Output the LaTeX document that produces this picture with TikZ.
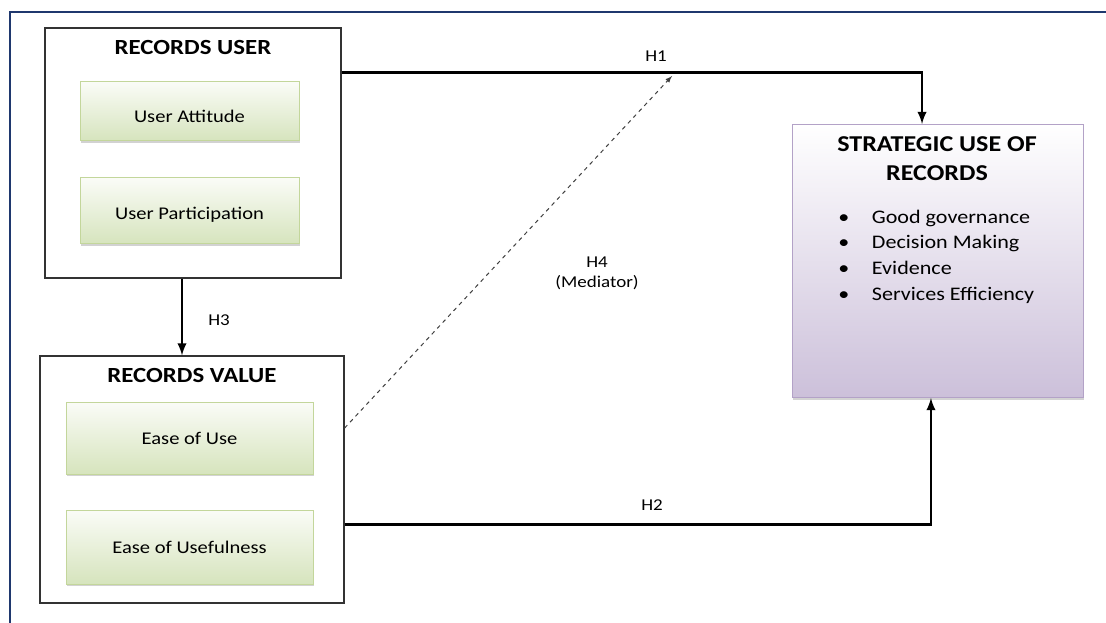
\documentclass[tikz,border=0pt]{standalone}
\usepackage{fontspec}
\setmainfont[FakeStretch=1.15]{Carlito}
\usepackage{tikz}
\usetikzlibrary{shapes, arrows, positioning, calc, shadows}
\usepackage{xcolor}
\definecolor{frameBlue}{RGB}{31, 56, 110}
\definecolor{leafGreen}{RGB}{214, 228, 189}
\definecolor{edgeGreen}{RGB}{195, 214, 155}
\definecolor{lilac}{RGB}{204, 192, 218}
\definecolor{edgeLilac}{RGB}{179, 162, 199}

\begin{document}
\begin{tikzpicture}[
        x=0.75pt, y=-0.75pt,
        groupbox/.style={rectangle, draw=black!80, fill=white, line width=0.9pt, inner sep=0pt},
        grouptitle/.style={font=\fontsize{16.2}{19}\selectfont\bfseries, inner sep=0pt},
        factorbox/.style={rectangle, draw=edgeGreen, top color=leafGreen!12, bottom color=leafGreen, line width=0.75pt, font=\fontsize{13.4}{16}\selectfont, drop shadow={shadow xshift=0.8pt, shadow yshift=-1.8pt, opacity=0.35}},
        goalbox/.style={rectangle, draw=edgeLilac, top color=white, bottom color=lilac, line width=0.75pt, drop shadow={shadow xshift=0.8pt, shadow yshift=-1.8pt, opacity=0.35}},
        hlabel/.style={font=\fontsize{12.4}{15}\selectfont, inner sep=0pt, align=center},
        arrow/.style={->, >=latex, line width=2.1pt, black},
        mediator/.style={->, >=latex, dashed, line width=0.75pt, black!75}
    ]
        \useasboundingbox (0,0) rectangle (1106,623);
        % outer frame
        \draw[frameBlue, line width=2.2pt] (10,623) -- (10,12) -- (1106,12);

        % Records user
        \node[groupbox, minimum width=222pt, minimum height=187.5pt] (ruser) at (193,153) {};
        \node[grouptitle] (rusertitle) at (193,48) {RECORDS USER};
        \node[factorbox, minimum width=164.25pt, minimum height=44.25pt] (attitude) at (189.5,111.5) {\raisebox{-8.5pt}[0pt][0pt]{User Attitude}};
        \node[factorbox, minimum width=164.25pt, minimum height=49.5pt] (particip) at (189.5,211) {\raisebox{-6.75pt}[0pt][0pt]{User Participation}};

        % Records value
        \node[groupbox, minimum width=228pt, minimum height=185.25pt] (rvalue) at (192,479.5) {};
        \node[grouptitle] (rvaluetitle) at (192,375) {RECORDS VALUE};
        \node[factorbox, minimum width=185.25pt, minimum height=54pt] (easeuse) at (189.5,438) {Ease of Use};
        \node[factorbox, minimum width=185.25pt, minimum height=55.5pt] (useful) at (189.5,547) {Ease of Usefulness};

        % Strategic use
        \node[goalbox, minimum width=218.25pt, minimum height=204.75pt] (strat) at (937.5,261) {};
        \node[font=\fontsize{17}{21.75}\selectfont\bfseries, align=center, inner sep=0pt] (strattitle) at (937,159) {STRATEGIC USE OF\\RECORDS};
        \node[font=\fontsize{14.4}{19.3}\selectfont, align=left, anchor=west, inner sep=0pt] (stratlist) at (838,256.5) {%
            \textbullet\hspace{17pt}Good governance\\
            \textbullet\hspace{17pt}Decision Making\\
            \textbullet\hspace{17pt}Evidence\\
            \textbullet\hspace{17pt}Services Efficiency};

        % Hypotheses
        \coordinate (h4end) at (672,76);
        \draw[arrow] ([yshift=-33.75pt]ruser.north east) -| ([xshift=-11.6pt]strat.north);
        \draw[arrow] ([yshift=59.25pt]rvalue.south east) -| ([xshift=-4.9pt]strat.south);
        \draw[arrow] ([xshift=-8.25pt]ruser.south) -- ([xshift=-8.25pt]ruser.south |- rvalue.north);
        \draw[mediator] ([yshift=38.6pt]rvalue.east) -- (h4end);

        \node[hlabel] (h1) at (656,56) {H1};
        \node[hlabel] (h2) at (652,505) {H2};
        \node[hlabel] (h3) at (219,320) {H3};
        \node[hlabel] (h4) at (597,273) {H4\\(Mediator)};
    \end{tikzpicture}
\end{document}
